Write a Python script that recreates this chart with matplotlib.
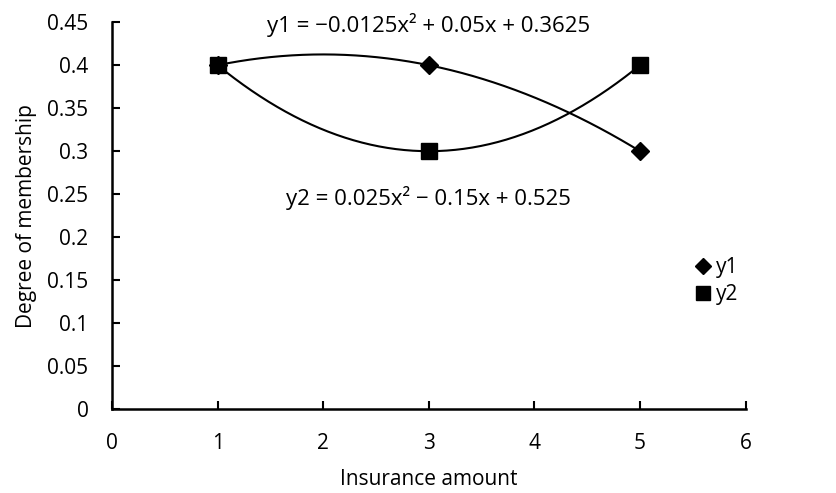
import numpy as np
import matplotlib
matplotlib.use("Agg")
import matplotlib.pyplot as plt
from matplotlib.lines import Line2D

plt.rcParams["font.family"] = ["Open Sans", "DejaVu Sans"]

# data
x_vals = [1, 3, 5]
y1_vals = [0.4, 0.4, 0.3]
y2_vals = [0.4, 0.3, 0.4]
eq_y1 = "y1 = \u22120.0125x\u00b2 + 0.05x + 0.3625"
eq_y2 = "y2 = 0.025x\u00b2 \u2212 0.15x + 0.525"

FS = 15

fig = plt.figure(figsize=(8.37, 4.93), dpi=100)
ax = fig.add_axes([0.1338, 0.170, 0.757, 0.785])

# polynomial (order 2) trendlines, as in the spreadsheet
xs = np.linspace(min(x_vals), max(x_vals), 200)
for ys in (y1_vals, y2_vals):
    coef = np.polyfit(x_vals, ys, 2)
    ax.plot(xs, np.polyval(coef, xs), color="black", linewidth=1.5, zorder=2)

ax.plot(x_vals, y1_vals, linestyle="none", marker="D", markersize=9.5,
        color="black", zorder=3, label="y1")
ax.plot(x_vals, y2_vals, linestyle="none", marker="s", markersize=11,
        color="black", zorder=4, label="y2")

ax.set_xlim(0, 6)
ax.set_ylim(0, 0.45)
ax.set_xticks(range(0, 7))
ax.set_yticks(np.arange(0, 0.451, 0.05))
ax.set_yticklabels(["0", "0.05", "0.1", "0.15", "0.2", "0.25", "0.3", "0.35", "0.4", "0.45"])
ax.tick_params(direction="in", length=6, width=1.5, labelsize=FS, pad=17)
for side in ("top", "right"):
    ax.spines[side].set_visible(False)
for side in ("left", "bottom"):
    ax.spines[side].set_linewidth(1.8)

ax.set_xlabel("Insurance amount", fontsize=FS, labelpad=11)
ax.set_ylabel("Degree of membership", fontsize=FS, labelpad=7)

ax.text(3.0, 0.447, eq_y1, ha="center", va="center", fontsize=16)
ax.text(3.0, 0.246, eq_y2, ha="center", va="center", fontsize=16)

handles = [
    Line2D([], [], linestyle="none", marker="D", markersize=8, color="black"),
    Line2D([], [], linestyle="none", marker="s", markersize=9.5, color="black"),
]
fig.legend(handles, ["y1", "y2"], loc="center left", bbox_to_anchor=(0.81, 0.43),
           frameon=False, fontsize=FS, handlelength=0.6, handletextpad=0.3,
           labelspacing=0.3)

fig.savefig("out.png", dpi=100)
